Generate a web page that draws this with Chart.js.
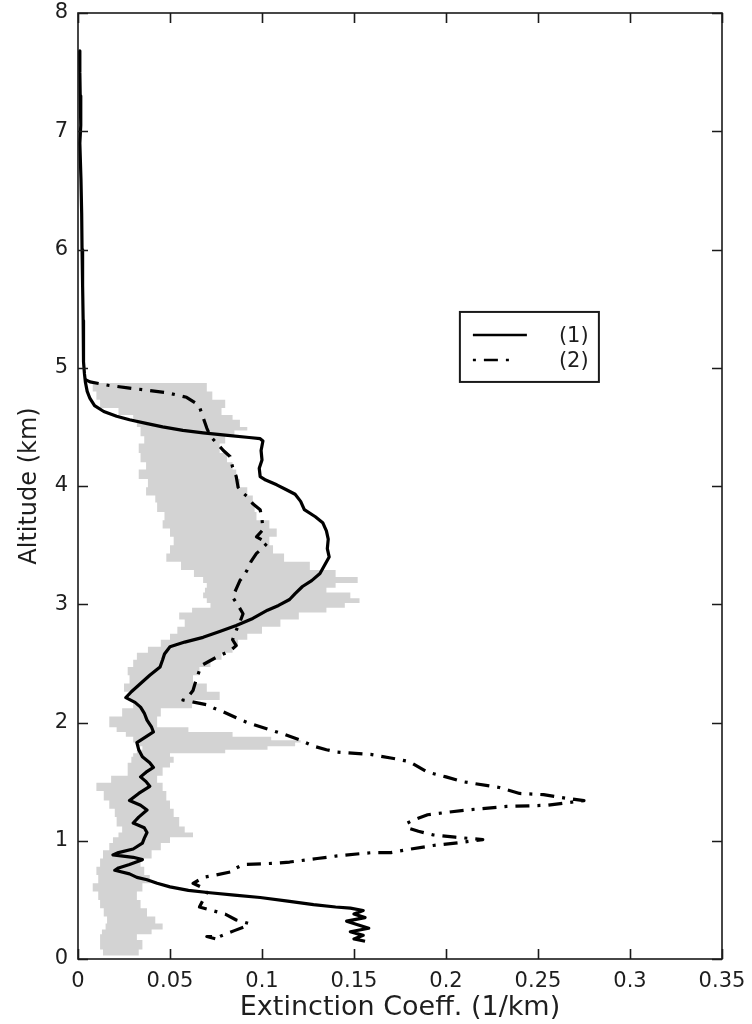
<!DOCTYPE html>
<html>
<head>
<meta charset="utf-8">
<script src="https://cdn.jsdelivr.net/npm/chart.js@4.4.1/dist/chart.umd.min.js"></script>
<style>
  html, body { margin: 0; padding: 0; background: #ffffff; }
  canvas { display: block; }
</style>
</head>
<body>
<canvas id="chart" width="752" height="1024"></canvas>
<script>
// Axis ticks
const xTickValues = [0, 0.05, 0.1, 0.15, 0.2, 0.25, 0.3, 0.35];
const xTickLabels = ['0', '0.05', '0.1', '0.15', '0.2', '0.25', '0.3', '0.35'];
const yTickValues = [0, 1, 2, 3, 4, 5, 6, 7, 8];
const yTickLabels = ['0', '1', '2', '3', '4', '5', '6', '7', '8'];

const seriesNames = ['(1)', '(2)'];

// Profile (1): altitude (km) and extinction coefficient (1/km)
const profile1Alt = [7.68, 7.5, 7.3, 7.05, 6.9, 6.6, 6.3, 6.0, 5.7, 5.4, 5.2, 5.05, 4.95, 4.88, 4.80, 4.74, 4.68, 4.63, 4.59, 4.56,
  4.53, 4.50, 4.47, 4.45, 4.43, 4.41, 4.40, 4.38, 4.30, 4.22, 4.15, 4.08, 4.05, 4.01, 3.97, 3.93, 3.87, 3.80, 3.74, 3.69,
  3.62, 3.55, 3.47, 3.40, 3.33, 3.26, 3.20, 3.15, 3.09, 3.04, 2.99, 2.95, 2.88, 2.82, 2.77, 2.72, 2.68, 2.64, 2.58, 2.53,
  2.47, 2.40, 2.33, 2.26, 2.21, 2.17, 2.13, 2.08, 2.02, 1.96, 1.92, 1.87, 1.83, 1.77, 1.71, 1.66, 1.62, 1.58, 1.54, 1.50,
  1.46, 1.40, 1.34, 1.30, 1.26, 1.20, 1.15, 1.11, 1.07, 1.02, 0.98, 0.93, 0.90, 0.88, 0.86, 0.84, 0.80, 0.77, 0.75, 0.72, 0.69, 0.67,
  0.64, 0.61, 0.58, 0.56, 0.54, 0.52, 0.49, 0.46, 0.44, 0.43, 0.41, 0.38, 0.35, 0.32, 0.29, 0.26, 0.23, 0.20, 0.17, 0.15];
const profile1Ext = [0.0008, 0.001, 0.0012, 0.0015, 0.001, 0.0016, 0.002, 0.0022, 0.0025, 0.0028, 0.003, 0.003, 0.0035, 0.004, 0.005, 0.0065, 0.009, 0.014, 0.021, 0.028,
  0.037, 0.046, 0.057, 0.068, 0.080, 0.093, 0.099, 0.1005, 0.0995, 0.100, 0.0985, 0.099, 0.102, 0.108, 0.113, 0.118, 0.121, 0.123, 0.129, 0.133,
  0.135, 0.136, 0.1355, 0.1365, 0.134, 0.1315, 0.127, 0.122, 0.118, 0.115, 0.109, 0.103, 0.095, 0.086, 0.077, 0.068, 0.058, 0.050, 0.047, 0.046,
  0.0446, 0.039, 0.034, 0.029, 0.026, 0.031, 0.034, 0.036, 0.0375, 0.040, 0.041, 0.036, 0.032, 0.033, 0.035, 0.039, 0.041, 0.037, 0.034, 0.037,
  0.039, 0.033, 0.028, 0.034, 0.0375, 0.033, 0.030, 0.036, 0.0375, 0.036, 0.035, 0.030, 0.022, 0.019, 0.030, 0.035, 0.028, 0.022, 0.020, 0.028, 0.032, 0.0375,
  0.043, 0.050, 0.060, 0.0717, 0.085, 0.099, 0.114, 0.128, 0.140, 0.148, 0.155, 0.150, 0.156, 0.146, 0.152, 0.158, 0.148, 0.155, 0.150, 0.156];

// Profile (2)
const profile2Alt = [4.90, 4.88, 4.85, 4.83, 4.81, 4.79, 4.75, 4.70, 4.67, 4.58, 4.49, 4.42, 4.36, 4.30, 4.25, 4.16, 4.08, 3.99, 3.94, 3.91,
  3.85, 3.80, 3.72, 3.63, 3.57, 3.52, 3.47, 3.43, 3.36, 3.29, 3.24, 3.20, 3.13, 3.06, 2.99, 2.92, 2.85, 2.78, 2.70, 2.65,
  2.61, 2.55, 2.49, 2.44, 2.35, 2.27, 2.22, 2.19, 2.15, 2.12, 2.09, 2.04, 2.00, 1.94, 1.90, 1.85, 1.80, 1.77, 1.75, 1.73,
  1.70, 1.67, 1.58, 1.54, 1.50, 1.45, 1.40, 1.39, 1.36, 1.34, 1.32, 1.30, 1.29, 1.26, 1.22, 1.18, 1.15, 1.11, 1.08, 1.05,
  1.03, 1.01, 0.98, 0.96, 0.93, 0.90, 0.90, 0.89, 0.87, 0.85, 0.84, 0.82, 0.81, 0.80, 0.77, 0.74, 0.71, 0.69, 0.67, 0.64,
  0.60, 0.56, 0.50, 0.44, 0.41, 0.38, 0.33, 0.30, 0.27, 0.24, 0.21, 0.19, 0.19, 0.17];
const profile2Ext = [0.004, 0.0065, 0.017, 0.027, 0.0375, 0.048, 0.059, 0.064, 0.066, 0.068, 0.070, 0.072, 0.0755, 0.079, 0.0826, 0.084, 0.086, 0.087, 0.0897, 0.092,
  0.095, 0.099, 0.100, 0.1005, 0.097, 0.103, 0.100, 0.097, 0.094, 0.092, 0.090, 0.088, 0.086, 0.084, 0.087, 0.0897, 0.088, 0.086, 0.084, 0.086,
  0.083, 0.075, 0.068, 0.066, 0.064, 0.0625, 0.060, 0.057, 0.070, 0.074, 0.079, 0.086, 0.092, 0.104, 0.112, 0.121, 0.128, 0.135, 0.141, 0.159,
  0.170, 0.180, 0.190, 0.200, 0.209, 0.229, 0.240, 0.253, 0.265, 0.275, 0.265, 0.255, 0.233, 0.211, 0.190, 0.183, 0.179, 0.179, 0.185, 0.193,
  0.205, 0.220, 0.205, 0.193, 0.181, 0.170, 0.160, 0.153, 0.140, 0.130, 0.125, 0.115, 0.108, 0.090, 0.086, 0.084, 0.075, 0.068, 0.066, 0.0625,
  0.068, 0.070, 0.068, 0.066, 0.073, 0.080, 0.086, 0.093, 0.090, 0.085, 0.080, 0.077, 0.070, 0.075];

// Shaded range: altitude with lower and upper extinction bounds
const bandAlt = [4.87, 4.80, 4.73, 4.66, 4.60, 4.56, 4.50, 4.47, 4.42, 4.36, 4.28, 4.20, 4.14, 4.06, 3.99, 3.92, 3.86, 3.78, 3.71, 3.64,
  3.57, 3.50, 3.43, 3.36, 3.29, 3.23, 3.18, 3.14, 3.10, 3.05, 3.01, 2.97, 2.93, 2.87, 2.81, 2.75, 2.70, 2.64, 2.59, 2.53,
  2.47, 2.40, 2.33, 2.26, 2.19, 2.12, 2.05, 1.96, 1.92, 1.88, 1.85, 1.83, 1.80, 1.77, 1.74, 1.71, 1.66, 1.62, 1.55, 1.49,
  1.42, 1.34, 1.27, 1.20, 1.12, 1.07, 1.03, 0.98, 0.92, 0.85, 0.78, 0.71, 0.64, 0.57, 0.50, 0.43, 0.36, 0.30, 0.25, 0.21,
  0.16, 0.08, 0.03];
const bandLow = [0.008, 0.010, 0.012, 0.022, 0.030, 0.032, 0.034, 0.034, 0.036, 0.033, 0.034, 0.037, 0.033, 0.038, 0.037, 0.042, 0.043, 0.047, 0.046, 0.050,
  0.052, 0.050, 0.048, 0.056, 0.063, 0.068, 0.070, 0.069, 0.068, 0.070, 0.072, 0.062, 0.055, 0.058, 0.054, 0.050, 0.045, 0.038, 0.032, 0.030,
  0.027, 0.028, 0.025, 0.028, 0.030, 0.024, 0.017, 0.021, 0.026, 0.030, 0.030, 0.033, 0.035, 0.032, 0.030, 0.029, 0.027, 0.027, 0.018, 0.010,
  0.014, 0.017, 0.020, 0.021, 0.024, 0.022, 0.019, 0.017, 0.0136, 0.012, 0.010, 0.011, 0.008, 0.011, 0.012, 0.014, 0.0158, 0.015, 0.013, 0.012,
  0.012, 0.0136, 0.016];
const bandHigh = [0.066, 0.070, 0.073, 0.080, 0.078, 0.084, 0.088, 0.092, 0.085, 0.080, 0.077, 0.081, 0.084, 0.086, 0.088, 0.092, 0.095, 0.096, 0.097, 0.104,
  0.108, 0.104, 0.106, 0.112, 0.126, 0.140, 0.152, 0.140, 0.135, 0.148, 0.153, 0.145, 0.135, 0.120, 0.110, 0.100, 0.092, 0.087, 0.084, 0.078,
  0.072, 0.066, 0.0625, 0.070, 0.077, 0.062, 0.045, 0.043, 0.060, 0.084, 0.105, 0.121, 0.118, 0.103, 0.080, 0.050, 0.052, 0.050, 0.046, 0.043,
  0.046, 0.048, 0.050, 0.052, 0.055, 0.058, 0.0625, 0.050, 0.045, 0.040, 0.034, 0.036, 0.039, 0.035, 0.032, 0.034, 0.0375, 0.042, 0.046, 0.040,
  0.032, 0.035, 0.033];

const toPoints = (alt, ext) => alt.map((a, i) => ({ x: ext[i], y: a }));

// Closed outline of the shaded range: lower bound going down, upper bound coming back up
const bandPolygon = toPoints(bandAlt, bandLow).concat(toPoints(bandAlt, bandHigh).reverse());

const TEXT = '#1e1e1e';
const FONT = 'DejaVu Sans';
Chart.defaults.font.family = FONT;
Chart.defaults.color = TEXT;

// Boxed frame with inward ticks on all four sides, plus the line-key box
const framePlugin = {
  id: 'frame',
  afterDatasetsDraw(chart) {
    const { ctx, chartArea: a, scales } = chart;
    const tick = 10;
    ctx.save();
    ctx.strokeStyle = '#1a1a1a';
    ctx.lineWidth = 1.6;
    ctx.strokeRect(a.left, a.top, a.right - a.left, a.bottom - a.top);
    ctx.beginPath();
    xTickValues.forEach(v => {
      const px = Math.round(scales.x.getPixelForValue(v)) + 0.5;
      ctx.moveTo(px, a.bottom); ctx.lineTo(px, a.bottom - tick);
      ctx.moveTo(px, a.top); ctx.lineTo(px, a.top + tick);
    });
    yTickValues.forEach(v => {
      const py = Math.round(scales.y.getPixelForValue(v)) + 0.5;
      ctx.moveTo(a.left, py); ctx.lineTo(a.left + tick, py);
      ctx.moveTo(a.right, py); ctx.lineTo(a.right - tick, py);
    });
    ctx.stroke();

    // key box
    const w = a.right - a.left, h = a.bottom - a.top;
    const bx = a.left + 0.593 * w, by = a.top + 0.316 * h;
    const bw = 139, bh = 70;
    ctx.fillStyle = '#ffffff';
    ctx.fillRect(bx, by, bw, bh);
    ctx.lineWidth = 2;
    ctx.strokeRect(bx, by, bw, bh);
    const rows = [by + 23, by + 48];
    chart.data.datasets.slice(0, 2).forEach((ds, i) => {
      ctx.beginPath();
      ctx.strokeStyle = ds.borderColor;
      ctx.lineWidth = 2.5;
      if (ds.borderDash) {
        ctx.setLineDash(ds.borderDash);
        ctx.lineDashOffset = ds.borderDash[0] + ds.borderDash[1];
      } else {
        ctx.setLineDash([]);
      }
      ctx.moveTo(bx + 13, rows[i]);
      ctx.lineTo(bx + (ds.borderDash ? 57 : 67), rows[i]);
      ctx.stroke();
      ctx.setLineDash([]);
      ctx.fillStyle = TEXT;
      ctx.font = '21px "' + FONT + '"';
      ctx.textBaseline = 'middle';
      ctx.textAlign = 'left';
      ctx.fillText(ds.label, bx + 99, rows[i] + 2);
    });
    ctx.restore();
  }
};

new Chart(document.getElementById('chart'), {
  type: 'line',
  data: {
    datasets: [
      {
        label: seriesNames[0],
        data: toPoints(profile1Alt, profile1Ext),
        borderColor: '#000000',
        borderWidth: 3.2,
        borderJoinStyle: 'round',
        pointRadius: 0,
        fill: false,
        tension: 0
      },
      {
        label: seriesNames[1],
        data: toPoints(profile2Alt, profile2Ext),
        borderColor: '#000000',
        borderWidth: 3.2,
        borderJoinStyle: 'round',
        borderDash: [14, 8, 3, 8],
        pointRadius: 0,
        fill: false,
        tension: 0
      },
      {
        label: 'range',
        data: bandPolygon,
        borderColor: 'rgba(0,0,0,0)',
        borderWidth: 0,
        backgroundColor: '#d3d3d3',
        pointRadius: 0,
        stepped: 'after',
        fill: 'shape'
      }
    ]
  },
  options: {
    responsive: false,
    animation: false,
    devicePixelRatio: 1,
    layout: { padding: { top: 13, right: 30, left: 0, bottom: 0 } },
    plugins: {
      legend: { display: false },
      tooltip: { enabled: false }
    },
    scales: {
      x: {
        type: 'linear',
        min: 0,
        max: 0.35,
        afterBuildTicks: s => { s.ticks = xTickValues.map(v => ({ value: v })); },
        afterFit: s => { s.height = 65; s.paddingLeft = 0; s.paddingRight = 0; },
        grid: { display: false, drawTicks: false },
        border: { display: false },
        ticks: {
          autoSkip: false,
          maxRotation: 0,
          padding: 10,
          color: TEXT,
          font: { size: 21 },
          callback: (v, i) => xTickLabels[i]
        },
        title: {
          display: true,
          text: 'Extinction Coeff. (1/km)',
          color: TEXT,
          font: { size: 27 },
          padding: { top: 3, bottom: 0 }
        }
      },
      y: {
        type: 'linear',
        min: 0,
        max: 8,
        afterBuildTicks: s => { s.ticks = yTickValues.map(v => ({ value: v })); },
        afterFit: s => { s.width = 78; s.paddingTop = 0; s.paddingBottom = 0; },
        grid: { display: false, drawTicks: false },
        border: { display: false },
        ticks: {
          autoSkip: false,
          padding: 10,
          color: TEXT,
          font: { size: 21 },
          callback: (v, i) => yTickLabels[i]
        },
        title: {
          display: true,
          text: 'Altitude (km)',
          color: TEXT,
          font: { size: 24 },
          padding: { top: 15, bottom: 0 }
        }
      }
    }
  },
  plugins: [framePlugin]
});
</script>
</body>
</html>
